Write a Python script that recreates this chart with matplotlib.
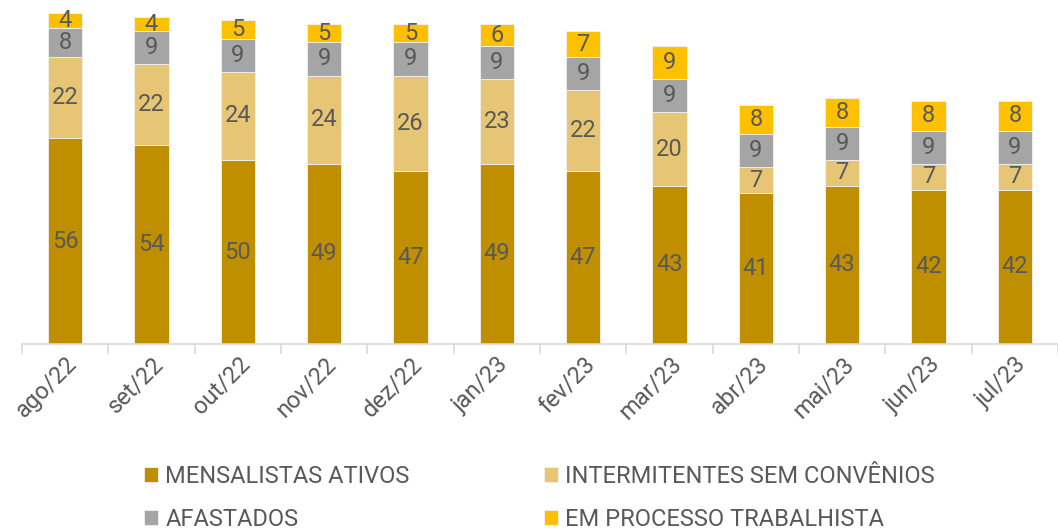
import numpy as np
import matplotlib.pyplot as plt

plt.rcParams['font.family'] = ['Roboto', 'DejaVu Sans']

meses = ['ago/22', 'set/22', 'out/22', 'nov/22', 'dez/22', 'jan/23',
         'fev/23', 'mar/23', 'abr/23', 'mai/23', 'jun/23', 'jul/23']
mensalistas = [56, 54, 50, 49, 47, 49, 47, 43, 41, 43, 42, 42]
intermitentes = [22, 22, 24, 24, 26, 23, 22, 20, 7, 7, 7, 7]
afastados = [8, 9, 9, 9, 9, 9, 9, 9, 9, 9, 9, 9]
processo = [4, 4, 5, 5, 5, 6, 7, 9, 8, 8, 8, 8]

series = [
    ('MENSALISTAS ATIVOS', mensalistas, '#BF8F00'),
    ('INTERMITENTES SEM CONVÊNIOS', intermitentes, '#E6C574'),
    ('AFASTADOS', afastados, '#A5A5A5'),
    ('EM PROCESSO TRABALHISTA', processo, '#FFC000'),
]
texto = '#595959'

fig = plt.figure(figsize=(10.58, 5.31), dpi=100)
ax = fig.add_axes([22 / 1058, 1 - 344 / 531, 1 - 22 / 1058, 331 / 531])

x = np.arange(len(meses))
base = np.zeros(len(meses))
handles = {}
for nome, vals, cor in series:
    vals = np.array(vals)
    bars = ax.bar(x, vals, 0.4, bottom=base, color=cor, edgecolor='#F2F2F2',
                  linewidth=0.6, label=nome)
    handles[nome] = bars
    for xi, b, v in zip(x, base, vals):
        ax.text(xi, b + v / 2, str(v), ha='center', va='center',
                fontsize=17, color=texto)
    base = base + vals

ax.set_xlim(-0.5, len(meses) - 0.5)
ax.set_ylim(0, 90)
ax.set_yticks([])
for s in ['top', 'right', 'left']:
    ax.spines[s].set_visible(False)
ax.spines['bottom'].set_color('#D9D9D9')
ax.spines['bottom'].set_linewidth(1.2)

ax.set_xticks(x)
ax.set_xticklabels(meses, rotation=45, ha='right', rotation_mode='anchor',
                   fontsize=17, color=texto)
ax.tick_params(axis='x', which='major', length=0, pad=6)
ax.set_xticks(np.arange(-0.5, len(meses), 1), minor=True)
ax.tick_params(axis='x', which='minor', length=7, color='#D9D9D9', width=1.2)

ordem = ['MENSALISTAS ATIVOS', 'AFASTADOS',
         'INTERMITENTES SEM CONVÊNIOS', 'EM PROCESSO TRABALHISTA']
leg = fig.legend([handles[n] for n in ordem], ordem, ncol=2,
                 loc='upper left', bbox_to_anchor=(144 / 1058, 1 - 465 / 531),
                 frameon=False, fontsize=17, handlelength=0.6, handleheight=0.6,
                 handletextpad=0.3, columnspacing=5.7, labelspacing=0.85,
                 borderaxespad=0, borderpad=0)
for t in leg.get_texts():
    t.set_color(texto)

fig.savefig('out.png', dpi=100)
